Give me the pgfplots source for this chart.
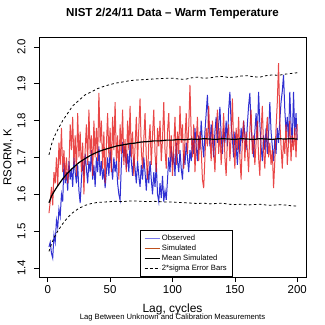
\documentclass[border=0pt]{standalone}
\usepackage{pgfplots}
\usepackage{pgfplotstable}
\pgfplotsset{compat=1.18}
\usepackage{fontspec}
\setmainfont{Liberation Sans}
\definecolor{obsblue}{RGB}{25,25,205}
\definecolor{simred}{RGB}{228,25,25}
\definecolor{legobs}{RGB}{120,120,235}
\definecolor{legsim}{RGB}{190,80,30}

\pgfplotstableread{
x obs sim
1 1.457 1.549
2 1.47 1.58
3 1.44 1.62
4 1.427 1.57
5 1.49 1.66
6 1.47 1.63
7 1.53 1.70
8 1.51 1.62
9 1.56 1.74
10 1.54 1.68
11 1.60 1.78
12 1.58 1.66
13 1.685 1.72
14 1.63 1.64
15 1.66 1.70
16 1.61 1.63
17 1.69 1.67
18 1.64 1.79
19 1.67 1.72
20 1.62 1.81
21 1.70 1.68
22 1.66 1.76
23 1.63 1.65
24 1.68 1.82
25 1.61 1.70
26 1.576 1.77
27 1.64 1.66
28 1.69 1.74
29 1.65 1.60
30 1.71 1.72
31 1.67 1.79
32 1.63 1.68
33 1.69 1.83
34 1.66 1.71
35 1.72 1.76
36 1.64 1.65
37 1.68 1.80
38 1.62 1.70
39 1.70 1.78
40 1.66 1.69
41 1.73 1.875
42 1.65 1.74
43 1.69 1.80
44 1.64 1.67
45 1.67 1.77
46 1.617 1.63
47 1.66 1.73
48 1.70 1.82
49 1.65 1.70
50 1.72 1.78
51 1.68 1.66
52 1.64 1.81
53 1.70 1.72
54 1.66 1.85
55 1.69 1.69
56 1.63 1.76
57 1.60 1.64
58 1.584 1.79
59 1.68 1.71
60 1.742 1.83
61 1.70 1.68
62 1.73 1.75
63 1.67 1.66
64 1.71 1.80
65 1.66 1.72
66 1.74 1.84
67 1.69 1.70
68 1.65 1.77
69 1.70 1.65
70 1.67 1.73
71 1.63 1.81
72 1.69 1.69
73 1.65 1.78
74 1.62 1.86
75 1.68 1.72
76 1.64 1.67
77 1.70 1.75
78 1.66 1.82
79 1.61 1.70
80 1.67 1.64
81 1.63 1.74
82 1.69 1.79
83 1.64 1.68
84 1.60 1.76
85 1.66 1.83
86 1.62 1.71
87 1.685 1.66
88 1.60 1.78
89 1.58 1.73
90 1.63 1.80
91 1.59 1.69
92 1.65 1.75
93 1.58 1.85
94 1.61 1.72
95 1.585 1.67
96 1.64 1.77
97 1.70 1.82
98 1.66 1.70
99 1.73 1.76
100 1.68 1.65
101 1.71 1.73
102 1.65 1.81
103 1.74 1.68
104 1.69 1.77
105 1.66 1.71
106 1.72 1.84
107 1.67 1.74
108 1.64 1.79
109 1.71 1.67
110 1.68 1.75
111 1.74 1.82
112 1.70 1.71
113 1.66 1.78
114 1.72 1.897
115 1.69 1.76
116 1.75 1.70
117 1.71 1.79
118 1.78 1.66
119 1.73 1.74
120 1.69 1.81
121 1.76 1.69
122 1.72 1.77
123 1.80 1.72
124 1.74 1.64
125 1.70 1.617
126 1.77 1.70
127 1.82 1.78
128 1.87 1.73
129 1.78 1.84
130 1.73 1.75
131 1.79 1.69
132 1.75 1.80
133 1.70 1.72
134 1.77 1.66
135 1.81 1.76
136 1.74 1.83
137 1.79 1.71
138 1.837 1.78
139 1.76 1.68
140 1.71 1.74
141 1.78 1.82
142 1.74 1.70
143 1.80 1.65
144 1.73 1.75
145 1.83 1.79
146 1.878 1.69
147 1.79 1.76
148 1.75 1.86
149 1.70 1.73
150 1.77 1.67
151 1.73 1.78
152 1.68 1.72
153 1.75 1.81
154 1.71 1.70
155 1.78 1.64
156 1.74 1.75
157 1.80 1.80
158 1.76 1.69
159 1.72 1.77
160 1.79 1.72
161 1.84 1.66
162 1.875 1.78
163 1.78 1.83
164 1.74 1.71
165 1.70 1.76
166 1.77 1.68
167 1.82 1.74
168 1.75 1.80
169 1.878 1.70
170 1.79 1.65
171 1.73 1.77
172 1.69 1.84
173 1.76 1.72
174 1.72 1.67
175 1.78 1.76
176 1.71 1.81
177 1.76 1.70
178 1.85 1.74
179 1.77 1.68
180 1.73 1.72
181 1.69 1.617
182 1.75 1.69
183 1.71 1.78
184 1.78 1.85
185 1.74 1.956
186 1.80 1.80
187 1.85 1.73
188 1.88 1.67
189 1.924 1.75
190 1.83 1.71
191 1.77 1.79
192 1.81 1.68
193 1.74 1.74
194 1.878 1.80
195 1.79 1.69
196 1.74 1.76
197 1.878 1.72
198 1.76 1.78
199 1.82 1.70
200 1.747 1.79
}\lagdata

\pgfplotstableread{
x mean lo hi
1 1.577 1.445 1.707
3 1.595 1.465 1.735
5 1.607 1.482 1.755
8 1.623 1.500 1.775
12 1.642 1.520 1.800
16 1.658 1.537 1.820
20 1.671 1.550 1.840
25 1.686 1.562 1.855
30 1.697 1.570 1.870
35 1.707 1.575 1.878
40 1.715 1.578 1.887
45 1.721 1.579 1.893
50 1.726 1.580 1.898
55 1.731 1.581 1.902
60 1.734 1.580 1.905
65 1.737 1.582 1.908
70 1.739 1.582 1.910
75 1.742 1.581 1.911
80 1.743 1.580 1.912
85 1.745 1.581 1.913
90 1.745 1.580 1.914
95 1.747 1.579 1.915
100 1.747 1.579 1.915
105 1.749 1.578 1.913
110 1.748 1.577 1.912
115 1.750 1.576 1.916
120 1.749 1.575 1.918
125 1.751 1.576 1.915
130 1.750 1.574 1.916
135 1.749 1.575 1.919
140 1.751 1.576 1.920
145 1.750 1.573 1.917
150 1.749 1.572 1.918
155 1.751 1.573 1.921
160 1.750 1.571 1.922
165 1.749 1.572 1.919
170 1.751 1.573 1.918
175 1.750 1.571 1.922
180 1.749 1.570 1.924
185 1.751 1.572 1.923
190 1.750 1.571 1.926
195 1.751 1.569 1.928
200 1.750 1.568 1.930
}\banddata

\begin{document}
\begin{tikzpicture}
\useasboundingbox (0,0) rectangle (325bp,325bp);
\begin{axis}[
  at={(39bp,48bp)}, anchor=south west,
  width=267bp, height=240bp, scale only axis,
  xmin=-7, xmax=207, ymin=1.3755, ymax=2.027,
  axis line style={line width=0.8bp},
  tick align=outside, major tick length=5bp,
  tick style={black, line width=0.6bp},
  xtick={0,50,100,150,200},
  ytick={1.4,1.5,1.6,1.7,1.8,1.9,2.0},
  yticklabels={1.4,1.5,1.6,1.7,1.8,1.9,2.0},
  xtick pos=left, ytick pos=left,
  /pgf/number format/assume math mode=true,
  ticklabel style={font=\fontsize{11.5}{13}\selectfont},
  yticklabel style={rotate=90, anchor=south},
  yticklabel shift=5bp,
  legend style={at={(rel axis cs:0.378,0)}, anchor=south west,
    draw=black, line width=0.6bp, inner xsep=4bp, inner ysep=3bp,
    font=\fontsize{7.7}{8.5}\selectfont, row sep=-1.2bp,
    cells={anchor=west}},
  legend image code/.code={\draw[#1] (0bp,0bp) -- (15bp,0bp);},
]
\addplot[obsblue, line width=1bp, opacity=0.9, forget plot] table[x=x, y=obs] {\lagdata};
\addplot[simred, line width=1bp, opacity=0.8, forget plot] table[x=x, y=sim] {\lagdata};
\addplot[black, line width=1.2bp, forget plot] table[x=x, y=mean] {\banddata};
\addplot[black, line width=0.8bp, dash pattern=on 2.5bp off 2.5bp, forget plot] table[x=x, y=hi] {\banddata};
\addplot[black, line width=0.8bp, dash pattern=on 2.5bp off 2.5bp, forget plot] table[x=x, y=lo] {\banddata};
\addlegendimage{legobs, line width=0.7bp}
\addlegendentry{Observed}
\addlegendimage{legsim, line width=0.7bp}
\addlegendentry{Simulated}
\addlegendimage{black, line width=0.7bp}
\addlegendentry{Mean Simulated}
\addlegendimage{black, line width=0.7bp, dash pattern=on 3bp off 2bp}
\addlegendentry{2*sigma Error Bars}
\end{axis}
\node[font=\bfseries\fontsize{11.6}{13}\selectfont] at (172.5bp,311bp) {NIST 2/24/11 Data -- Warm Temperature};
\node[rotate=90, font=\fontsize{11.5}{13}\selectfont] at (8bp,168bp) {RSORM, K};
\node[font=\fontsize{12}{14}\selectfont] at (172.5bp,16bp) {Lag, cycles};
\node[font=\fontsize{7.7}{9}\selectfont] at (172.5bp,7bp) {Lag Between Unknown and Calibration Measurements};
\end{tikzpicture}
\end{document}
